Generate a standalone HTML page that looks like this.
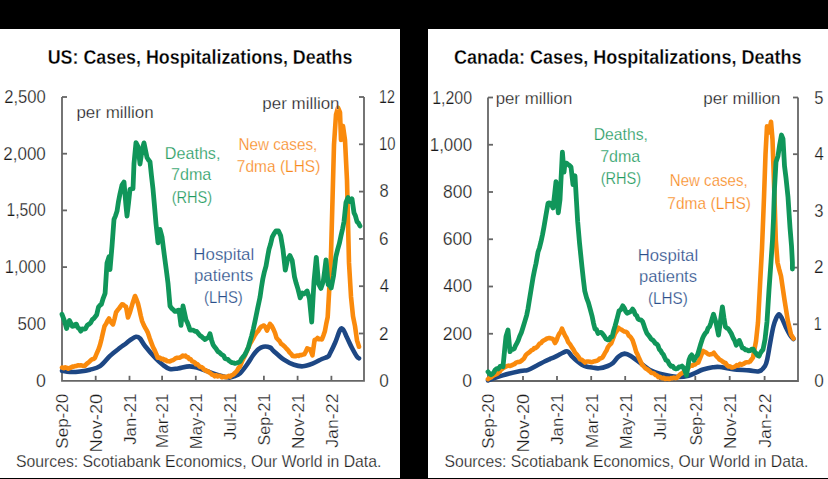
<!DOCTYPE html>
<html><head><meta charset="utf-8"><style>
html,body{margin:0;padding:0;background:#000;width:828px;height:479px;overflow:hidden}
</style></head><body>
<svg width="828" height="479" viewBox="0 0 828 479" style="display:block;font-family:'Liberation Sans',sans-serif">
<rect x="0" y="0" width="828" height="479" fill="#000"/>
<rect x="0" y="29" width="400" height="449" fill="#fff"/>
<rect x="428" y="29" width="400" height="449" fill="#fff"/>
<path d="M62,97 L62,380.8 L364,380.8 L364,97" fill="none" stroke="#666666" stroke-width="1.8"/>
<path d="M62,97 h5" stroke="#666666" stroke-width="1.8"/>
<path d="M62,153.7 h5" stroke="#666666" stroke-width="1.8"/>
<path d="M62,210.4 h5" stroke="#666666" stroke-width="1.8"/>
<path d="M62,267.1 h5" stroke="#666666" stroke-width="1.8"/>
<path d="M62,323.8 h5" stroke="#666666" stroke-width="1.8"/>
<path d="M364,97 h-5" stroke="#666666" stroke-width="1.8"/>
<path d="M364,144.3 h-5" stroke="#666666" stroke-width="1.8"/>
<path d="M364,191.6 h-5" stroke="#666666" stroke-width="1.8"/>
<path d="M364,238.9 h-5" stroke="#666666" stroke-width="1.8"/>
<path d="M364,286.2 h-5" stroke="#666666" stroke-width="1.8"/>
<path d="M364,333.5 h-5" stroke="#666666" stroke-width="1.8"/>
<path d="M95.7,380.8 v-5" stroke="#666666" stroke-width="1.8"/>
<path d="M129.5,380.8 v-5" stroke="#666666" stroke-width="1.8"/>
<path d="M162.1,380.8 v-5" stroke="#666666" stroke-width="1.8"/>
<path d="M195.8,380.8 v-5" stroke="#666666" stroke-width="1.8"/>
<path d="M229.6,380.8 v-5" stroke="#666666" stroke-width="1.8"/>
<path d="M263.9,380.8 v-5" stroke="#666666" stroke-width="1.8"/>
<path d="M297.6,380.8 v-5" stroke="#666666" stroke-width="1.8"/>
<path d="M331.4,380.8 v-5" stroke="#666666" stroke-width="1.8"/>
<path d="M488,97.5 L488,381 L798,381 L798,97.5" fill="none" stroke="#666666" stroke-width="1.8"/>
<path d="M488,97.5 h5" stroke="#666666" stroke-width="1.8"/>
<path d="M488,144.75 h5" stroke="#666666" stroke-width="1.8"/>
<path d="M488,192 h5" stroke="#666666" stroke-width="1.8"/>
<path d="M488,239.25 h5" stroke="#666666" stroke-width="1.8"/>
<path d="M488,286.5 h5" stroke="#666666" stroke-width="1.8"/>
<path d="M488,333.75 h5" stroke="#666666" stroke-width="1.8"/>
<path d="M798,97.5 h-5" stroke="#666666" stroke-width="1.8"/>
<path d="M798,154.2 h-5" stroke="#666666" stroke-width="1.8"/>
<path d="M798,210.9 h-5" stroke="#666666" stroke-width="1.8"/>
<path d="M798,267.6 h-5" stroke="#666666" stroke-width="1.8"/>
<path d="M798,324.3 h-5" stroke="#666666" stroke-width="1.8"/>
<path d="M523,381 v-5" stroke="#666666" stroke-width="1.8"/>
<path d="M557,381 v-5" stroke="#666666" stroke-width="1.8"/>
<path d="M591.2,381 v-5" stroke="#666666" stroke-width="1.8"/>
<path d="M625.2,381 v-5" stroke="#666666" stroke-width="1.8"/>
<path d="M660,381 v-5" stroke="#666666" stroke-width="1.8"/>
<path d="M695.3,381 v-5" stroke="#666666" stroke-width="1.8"/>
<path d="M729.7,381 v-5" stroke="#666666" stroke-width="1.8"/>
<path d="M764.6,381 v-5" stroke="#666666" stroke-width="1.8"/>
<path d="M62.0,370.8 C63.3,371.0 67.0,371.9 70.0,372.0 C73.0,372.1 76.7,371.9 80.0,371.5 C83.3,371.1 86.7,370.6 90.0,369.7 C93.3,368.8 96.7,368.5 100.0,366.2 C103.3,363.9 106.7,359.0 110.0,355.9 C113.3,352.8 117.3,349.9 120.0,347.8 C122.7,345.7 124.2,344.9 126.0,343.5 C127.8,342.1 129.3,340.6 131.0,339.5 C132.7,338.4 134.5,337.0 136.0,336.8 C137.5,336.6 138.5,337.0 140.0,338.5 C141.5,340.0 142.4,342.7 145.0,346.0 C147.6,349.3 152.8,355.3 155.8,358.5 C158.8,361.7 160.7,363.2 163.0,365.0 C165.3,366.8 167.2,368.4 169.7,369.0 C172.2,369.6 174.7,368.9 178.0,368.5 C181.3,368.1 185.8,366.4 189.5,366.4 C193.2,366.4 196.1,367.3 200.0,368.5 C203.9,369.7 208.5,372.0 213.0,373.5 C217.5,375.0 223.3,376.9 227.0,377.3 C230.7,377.7 232.8,376.7 235.0,376.0 C237.2,375.3 238.1,375.1 240.0,373.3 C241.9,371.5 244.5,368.1 246.7,365.0 C248.9,361.9 251.4,357.6 253.3,355.0 C255.2,352.4 256.6,350.6 258.3,349.2 C260.0,347.8 261.4,347.0 263.3,346.7 C265.2,346.4 268.3,346.8 270.0,347.5 C271.7,348.2 271.3,349.0 273.6,351.0 C275.9,353.0 280.5,357.4 283.9,359.7 C287.3,362.0 290.8,363.7 294.0,364.8 C297.2,365.9 299.7,366.5 302.9,366.3 C306.1,366.1 309.9,364.6 313.1,363.4 C316.3,362.2 319.5,360.1 321.9,359.0 C324.3,357.9 326.3,357.7 327.7,356.8 C329.1,355.9 328.8,355.8 330.0,353.5 C331.2,351.2 333.3,346.9 335.0,343.0 C336.7,339.1 338.7,332.3 340.0,330.0 C341.3,327.7 341.8,328.1 343.0,329.3 C344.2,330.6 345.5,334.4 347.0,337.5 C348.5,340.6 350.3,344.8 352.0,348.0 C353.7,351.2 355.8,355.0 357.0,356.7 C358.2,358.4 358.7,358.0 359.0,358.3" fill="none" stroke="#1d4784" stroke-width="4.6" stroke-linejoin="round" stroke-linecap="round"/>
<polyline points="62.0,367.5 63.7,368.1 65.3,367.3 67.0,367.9 68.3,368.6 69.7,368.0 71.0,367.5 72.3,366.6 73.7,366.6 75.0,366.1 76.4,366.0 77.9,365.2 79.3,365.5 80.7,365.3 82.1,365.6 83.6,365.8 85.0,365.6 86.4,364.1 87.9,362.9 89.3,361.7 90.7,360.4 92.1,359.3 93.6,359.0 95.0,357.7 96.7,353.5 98.3,349.9 100.0,345.0 101.5,339.1 103.0,332.6 104.5,326.3 106.0,323.9 107.5,320.8 109.0,318.5 110.3,321.3 111.7,322.9 113.0,324.4 114.5,319.0 116.0,312.4 117.5,310.3 119.0,308.6 120.5,306.4 122.0,304.4 123.3,304.5 124.7,306.0 126.0,306.6 128.0,317.5 129.7,313.0 131.3,307.6 133.0,301.9 135.0,296.0 136.5,299.5 138.0,303.6 139.3,309.0 140.7,315.5 142.0,320.8 143.5,324.5 145.0,327.6 146.5,329.9 148.0,333.1 149.7,338.3 151.3,342.6 153.0,347.0 154.6,350.1 156.2,353.8 157.8,357.8 159.5,357.5 161.3,359.1 163.0,358.7 164.3,360.1 165.7,359.7 167.0,361.1 168.4,361.2 169.7,361.4 171.0,360.8 172.3,360.4 173.7,359.7 175.0,358.7 176.7,357.9 178.3,357.7 180.0,357.6 181.4,356.8 182.8,355.6 184.1,356.2 185.5,355.7 186.8,357.1 188.1,357.2 189.4,359.1 190.7,359.3 192.0,361.2 193.3,361.6 194.7,362.5 196.0,364.3 197.3,364.1 198.7,365.6 200.0,367.0 201.3,367.0 202.7,367.9 204.0,369.7 205.3,370.0 206.7,371.3 208.0,371.2 209.3,372.5 210.6,373.2 212.0,374.8 213.3,374.8 214.8,376.3 216.2,375.2 217.7,376.4 219.2,375.7 220.6,376.2 222.1,377.3 223.5,376.6 225.0,376.9 226.3,377.3 227.7,376.5 229.0,375.8 230.3,376.8 231.7,375.3 233.0,374.9 234.4,373.5 235.8,372.1 237.2,370.6 238.6,367.9 240.0,366.5 241.7,362.1 243.3,358.8 245.0,355.4 246.7,351.4 248.3,347.8 250.0,343.7 251.7,341.0 253.3,338.1 255.0,335.0 256.7,332.4 258.3,330.8 260.0,328.0 261.3,326.6 262.7,326.0 264.0,325.5 265.5,327.2 267.0,330.6 268.5,327.1 270.0,323.9 271.8,326.0 273.6,329.6 275.1,333.1 276.5,337.9 278.0,339.6 279.5,341.0 281.0,343.7 282.4,344.6 283.9,345.9 285.4,347.4 286.8,349.0 288.2,350.4 289.7,352.6 291.2,353.9 292.6,356.0 294.1,356.1 295.6,356.3 297.0,355.5 298.5,355.9 299.9,355.1 301.4,355.1 302.9,354.6 304.3,354.3 305.8,351.6 307.2,348.4 308.7,349.0 310.2,349.5 312.4,355.3 314.6,340.0 316.1,339.5 317.5,338.0 319.0,339.3 320.4,339.1 321.9,339.4 323.4,335.6 324.8,331.6 326.2,324.1 327.7,317.0 329.5,285.0 331.0,254.7 332.5,200.2 334.0,144.6 336.0,114.6 338.0,107.6 340.0,112.3 341.0,139.9 343.0,126.0 345.0,140.1 347.0,180.4 349.0,262.9 351.0,296.7 353.0,316.3 355.0,326.1 357.0,340.4 359.0,346.7" fill="none" stroke="#fa8a0c" stroke-width="4.6" stroke-linejoin="round" stroke-linecap="round"/>
<polyline points="62.0,314.3 64.2,320.1 66.6,328.5 68.0,323.7 69.4,320.4 70.8,323.1 72.2,326.3 73.6,326.2 75.0,324.5 76.4,324.1 77.8,327.6 79.3,328.7 80.7,331.2 82.3,328.9 83.8,329.1 85.4,328.8 87.2,325.3 89.1,324.1 90.7,322.7 92.2,319.7 93.8,318.5 95.2,316.7 96.7,314.7 98.5,307.0 100.0,305.2 101.4,304.2 103.2,298.3 105.1,293.4 107.0,262.9 109.0,256.7 110.0,269.5 112.0,246.2 114.0,219.4 115.5,215.8 117.0,211.3 118.5,201.4 120.0,193.7 122.0,185.1 124.0,182.0 126.0,206.1 127.0,216.0 128.5,203.2 130.0,189.2 131.5,188.8 133.0,188.7 134.0,163.4 136.0,142.6 138.0,146.5 140.0,164.0 142.0,150.3 144.0,142.9 145.5,150.2 147.0,157.5 148.5,159.9 150.0,161.7 151.5,176.0 153.0,189.1 154.5,206.0 156.0,223.6 158.0,242.8 160.0,229.3 162.0,236.8 163.5,248.8 165.0,260.3 166.5,271.4 168.0,283.2 170.0,306.0 171.7,308.4 173.3,309.8 175.0,311.4 176.3,311.4 177.7,310.3 179.0,310.1 181.0,325.4 183.0,306.0 184.5,312.7 186.0,319.8 187.3,322.3 188.7,326.0 190.0,330.0 191.7,330.1 193.3,330.1 195.0,331.3 196.7,331.4 198.3,333.4 200.0,335.6 201.7,336.6 203.3,338.2 205.0,339.5 206.7,338.3 208.3,337.4 210.0,333.7 211.5,339.9 213.0,344.6 214.7,347.1 216.3,349.1 218.0,351.6 219.4,352.4 220.8,353.8 222.2,354.9 223.6,355.6 225.0,358.5 226.4,359.0 227.8,359.3 229.2,360.9 230.6,361.9 232.0,362.7 233.5,362.8 235.0,363.4 236.7,363.0 238.3,362.5 240.0,361.6 241.7,358.5 243.3,356.7 245.0,354.4 246.7,351.0 248.3,347.4 250.0,341.4 251.7,335.6 253.3,329.0 255.0,321.2 257.5,309.0 260.0,297.3 261.4,287.7 262.8,279.0 264.4,271.8 266.0,266.1 267.5,257.3 269.0,249.2 270.6,244.0 272.2,237.2 274.1,233.6 276.0,230.8 278.4,230.8 280.7,235.8 283.0,249.7 285.3,270.2 287.6,259.3 289.9,255.6 292.2,260.5 294.5,276.8 296.2,283.3 298.0,289.1 300.2,297.8 302.5,293.1 304.0,293.9 305.6,292.4 307.1,291.0 309.4,298.6 311.7,322.0 314.0,281.4 316.3,257.3 318.6,284.0 320.9,288.4 323.2,281.7 324.6,271.3 326.0,259.8 328.2,284.8 329.7,285.3 331.2,288.0 333.5,276.1 335.8,257.0 337.6,249.6 339.3,243.7 341.0,235.8 342.5,229.2 344.0,221.6 346.0,202.3 348.0,197.5 350.0,201.6 352.0,198.9 354.0,212.8 355.5,216.1 357.0,221.7 358.5,223.1 360.0,226.0" fill="none" stroke="#10965a" stroke-width="4.8" stroke-linejoin="round" stroke-linecap="round"/>
<path d="M488.0,380.5 C490.5,379.6 497.4,377.0 502.8,375.4 C508.2,373.8 516.4,371.9 520.5,371.0 C524.6,370.1 524.9,371.0 527.6,370.1 C530.3,369.2 533.6,367.2 536.5,365.7 C539.4,364.2 542.8,362.3 545.0,361.2 C547.2,360.1 548.3,359.7 550.0,359.0 C551.7,358.3 553.3,357.7 555.0,356.9 C556.7,356.1 558.3,355.2 560.0,354.3 C561.7,353.4 563.7,352.1 565.0,351.7 C566.3,351.3 566.8,350.9 568.0,351.7 C569.2,352.5 570.5,354.8 572.0,356.4 C573.5,357.9 575.3,359.6 577.0,361.0 C578.7,362.4 580.3,363.7 582.0,364.7 C583.7,365.7 585.3,366.3 587.0,366.8 C588.7,367.3 590.0,367.2 592.0,367.5 C594.0,367.8 596.4,368.6 599.0,368.3 C601.6,368.1 605.5,366.9 607.8,366.0 C610.1,365.1 611.2,364.5 613.0,363.0 C614.8,361.5 616.5,358.4 618.4,356.8 C620.3,355.2 622.5,353.8 624.6,353.6 C626.7,353.5 628.6,354.6 630.8,355.9 C633.0,357.2 635.5,359.4 637.9,361.2 C640.3,363.0 643.0,365.1 645.0,366.6 C647.0,368.1 647.5,368.8 650.0,370.0 C652.5,371.2 656.5,372.9 659.7,373.8 C662.9,374.8 666.1,375.2 669.3,375.7 C672.5,376.2 675.8,377.0 679.0,377.0 C682.2,377.0 685.9,376.4 688.6,375.7 C691.3,375.0 693.0,373.9 695.4,372.9 C697.8,371.9 700.1,370.4 703.0,369.5 C705.9,368.6 710.0,367.7 712.8,367.3 C715.6,366.9 716.2,366.7 719.6,367.0 C723.0,367.3 728.1,368.6 733.0,369.2 C737.9,369.8 744.7,370.0 749.0,370.4 C753.3,370.8 756.3,372.0 759.0,371.3 C761.7,370.6 763.6,368.2 765.0,366.0 C766.4,363.8 766.6,362.2 767.5,358.0 C768.4,353.8 769.5,346.3 770.5,341.0 C771.5,335.7 772.5,329.9 773.5,326.0 C774.5,322.1 775.6,319.5 776.5,317.5 C777.4,315.5 778.1,314.0 779.0,314.2 C779.9,314.4 780.8,316.3 782.0,318.5 C783.2,320.7 784.7,324.8 786.0,327.5 C787.3,330.2 788.8,333.1 790.0,335.0 C791.2,336.9 792.9,338.3 793.5,339.0" fill="none" stroke="#1d4784" stroke-width="4.6" stroke-linejoin="round" stroke-linecap="round"/>
<polyline points="488.0,379.1 489.5,378.0 491.1,377.4 492.6,376.1 494.2,375.0 495.7,374.5 497.1,373.9 498.5,372.5 500.0,371.2 501.4,369.2 502.8,368.4 504.3,367.4 505.7,366.7 507.2,366.0 508.7,365.6 510.1,366.0 511.6,365.3 513.1,364.6 514.6,364.0 516.0,362.6 517.5,362.1 519.0,362.0 520.5,361.5 522.2,360.1 524.0,358.5 525.8,355.1 527.6,353.4 529.0,352.6 530.3,351.5 531.6,350.1 533.0,349.7 534.3,348.0 535.6,348.1 537.0,346.9 538.3,345.4 539.6,343.7 541.0,343.2 542.3,341.4 543.6,340.5 545.3,339.7 547.0,338.5 548.5,338.1 550.0,338.1 551.5,338.6 553.0,338.9 555.0,343.0 556.5,340.5 558.0,336.2 559.3,333.6 560.7,331.8 562.0,328.7 563.5,332.3 565.0,335.5 566.7,338.3 568.3,342.3 570.0,344.2 571.7,347.1 573.3,349.4 575.0,352.6 576.7,354.3 578.3,356.6 580.0,359.3 581.7,359.7 583.3,361.1 585.0,362.6 586.7,361.5 588.3,361.5 590.0,361.7 591.4,362.3 592.8,361.9 594.2,361.2 595.6,361.1 597.0,360.7 598.4,360.0 599.7,358.4 601.0,358.2 602.4,357.4 603.8,355.2 605.1,352.7 606.4,350.8 607.8,347.3 609.5,345.0 611.3,343.3 613.1,338.5 614.9,333.6 616.6,331.2 618.4,327.7 619.9,329.1 621.3,329.5 622.8,330.6 624.3,331.5 625.8,331.7 627.3,332.6 628.6,335.4 630.0,336.6 631.3,338.1 632.6,340.2 634.4,345.7 636.2,351.9 637.7,354.8 639.1,358.3 640.6,361.5 642.1,364.8 643.5,366.1 645.0,367.9 646.7,368.9 648.3,370.1 650.0,371.5 651.4,373.0 652.8,373.0 654.2,373.6 655.5,375.0 656.9,375.4 658.3,377.2 659.7,376.7 661.1,377.5 662.4,378.1 663.8,377.9 665.2,379.0 666.6,378.5 667.9,378.5 669.3,379.0 670.8,378.1 672.4,378.2 673.9,377.6 675.5,378.1 677.0,377.7 678.5,376.1 680.0,374.4 681.4,373.6 682.9,372.5 684.4,371.1 686.0,369.8 687.5,369.3 689.1,366.9 690.6,365.4 692.1,365.8 693.7,364.6 695.2,364.4 696.8,362.8 698.3,362.8 699.9,358.5 701.4,354.9 703.0,350.9 704.7,351.9 706.3,352.6 708.0,354.1 709.5,354.6 710.9,354.3 712.3,354.0 713.8,352.8 715.2,354.8 716.7,356.6 718.1,357.9 719.6,359.7 721.0,360.3 722.5,361.5 724.0,362.5 725.4,362.9 726.9,365.1 728.5,366.4 730.0,366.4 731.7,367.5 733.3,367.2 735.0,366.6 736.7,365.1 738.3,365.6 740.0,363.9 741.7,364.7 743.3,364.0 745.0,362.8 746.7,362.3 748.3,362.3 750.0,361.5 751.5,359.5 753.0,357.6 754.5,349.1 756.0,341.3 758.0,322.6 760.0,285.3 762.0,248.5 764.0,197.5 765.5,154.4 767.0,126.4 769.0,132.5 771.0,121.8 772.5,139.5 773.5,168.1 774.5,197.9 775.8,239.8 777.5,262.5 779.2,269.4 781.0,276.0 782.8,288.3 784.5,299.9 786.2,310.5 788.0,321.9 789.5,327.9 791.0,334.5 793.5,338.5" fill="none" stroke="#fa8a0c" stroke-width="4.6" stroke-linejoin="round" stroke-linecap="round"/>
<polyline points="488.0,371.8 489.5,373.7 491.0,374.7 492.3,373.9 493.7,372.6 495.0,370.1 496.7,368.7 498.3,369.0 500.0,366.5 501.5,365.8 503.0,366.7 505.0,345.9 506.0,336.4 508.0,330.0 510.0,351.7 511.4,349.6 512.9,349.4 514.3,348.7 515.6,345.4 517.0,343.1 518.3,340.3 519.6,336.4 521.4,332.5 523.2,326.8 525.0,320.9 526.7,315.1 528.0,308.7 529.4,299.9 531.2,288.9 533.0,277.8 534.5,270.3 536.0,263.5 538.0,252.1 539.5,247.7 541.0,241.7 542.5,234.8 544.0,226.8 546.0,214.9 548.0,203.3 549.5,202.8 551.0,203.6 553.0,207.9 554.5,195.3 556.0,181.6 557.0,197.0 558.3,212.8 560.0,199.7 562.4,152.2 564.0,172.2 565.0,163.0 566.5,163.2 568.0,164.4 569.5,165.5 571.0,167.0 573.0,184.7 575.0,175.8 576.0,193.2 577.7,221.9 579.5,242.8 582.0,267.1 583.4,279.8 584.8,291.2 586.6,297.8 588.4,302.6 590.2,309.2 592.0,315.8 593.5,323.1 595.0,329.0 596.5,329.6 598.0,333.4 599.5,332.7 601.0,332.3 602.6,333.8 604.2,336.0 606.0,338.9 607.8,339.9 609.3,339.6 610.7,337.0 612.2,336.8 613.7,330.4 615.1,325.9 616.6,320.5 619.0,311.0 620.9,309.6 622.8,305.8 624.3,308.0 625.8,311.7 627.3,313.3 628.6,312.5 630.0,311.8 631.3,311.1 632.6,309.1 633.9,310.9 635.2,314.5 636.6,315.4 637.9,318.7 639.4,319.8 640.9,319.9 642.4,321.2 643.9,325.2 645.3,329.4 646.8,333.2 648.4,335.1 650.0,337.2 651.3,339.4 652.7,340.0 654.0,341.4 655.3,343.4 656.7,344.0 658.0,345.6 659.3,349.3 660.7,350.7 662.0,353.1 663.3,354.4 664.7,357.5 666.0,360.2 667.7,361.0 669.3,364.2 671.0,366.3 672.7,366.1 674.3,368.3 676.0,368.9 677.5,368.5 679.0,367.0 680.5,366.8 682.0,366.0 683.5,367.7 685.0,371.0 686.5,375.4 689.0,359.9 690.4,356.5 691.7,354.9 694.0,360.2 695.8,357.1 697.6,354.7 699.3,349.0 700.9,343.4 702.6,338.2 704.0,335.3 705.4,333.2 706.7,331.8 708.1,328.0 709.5,326.8 710.8,323.2 712.2,318.4 713.5,314.2 716.0,322.6 718.5,335.1 720.5,320.6 722.4,306.8 723.9,317.7 725.4,326.9 726.7,328.0 728.1,328.7 729.4,330.4 731.3,333.5 733.3,338.3 734.8,340.9 736.3,345.3 737.8,342.9 739.3,340.4 740.8,344.0 742.3,348.0 743.9,348.4 745.6,349.9 747.2,349.9 748.7,350.9 750.2,350.7 751.7,349.1 753.2,349.1 754.7,351.9 756.1,353.3 757.5,355.4 759.0,356.2 760.3,353.3 761.7,351.1 763.0,349.6 765.0,339.5 767.0,321.7 769.0,289.8 771.0,261.8 772.5,239.8 773.5,218.8 774.5,188.3 776.0,162.0 778.0,155.9 779.5,145.8 781.5,135.0 783.0,138.9 784.5,165.9 786.0,177.9 788.0,197.1 790.0,227.5 791.5,245.7 792.4,262.3 792.4,269.0" fill="none" stroke="#10965a" stroke-width="4.8" stroke-linejoin="round" stroke-linecap="round"/>
<g opacity="0.999">
<text x="47.66" y="63.70" font-size="20.9" font-weight="bold" fill="#000" textLength="304.76" lengthAdjust="spacingAndGlyphs" stroke="#fff" stroke-width="0.3">US: Cases, Hospitalizations, Deaths</text>
<text x="4.22" y="102.85" font-size="17.5" font-weight="normal" fill="#1a1a1a" textLength="41.59" lengthAdjust="spacingAndGlyphs" stroke="#fff" stroke-width="0.25">2,500</text>
<text x="3.30" y="159.75" font-size="17.5" font-weight="normal" fill="#1a1a1a" textLength="42.52" lengthAdjust="spacingAndGlyphs" stroke="#fff" stroke-width="0.25">2,000</text>
<text x="6.52" y="216.25" font-size="17.5" font-weight="normal" fill="#1a1a1a" textLength="39.27" lengthAdjust="spacingAndGlyphs" stroke="#fff" stroke-width="0.25">1,500</text>
<text x="4.78" y="273.35" font-size="17.5" font-weight="normal" fill="#1a1a1a" textLength="41.03" lengthAdjust="spacingAndGlyphs" stroke="#fff" stroke-width="0.25">1,000</text>
<text x="17.57" y="330.15" font-size="17.5" font-weight="normal" fill="#1a1a1a" textLength="28.25" lengthAdjust="spacingAndGlyphs" stroke="#fff" stroke-width="0.25">500</text>
<text x="35.94" y="386.95" font-size="17.5" font-weight="normal" fill="#1a1a1a" textLength="9.90" lengthAdjust="spacingAndGlyphs" stroke="#fff" stroke-width="0.25">0</text>
<text x="379.01" y="103.15" font-size="17.5" font-weight="normal" fill="#1a1a1a" textLength="15.87" lengthAdjust="spacingAndGlyphs" stroke="#fff" stroke-width="0.25">12</text>
<text x="378.97" y="150.45" font-size="17.5" font-weight="normal" fill="#1a1a1a" textLength="16.50" lengthAdjust="spacingAndGlyphs" stroke="#fff" stroke-width="0.25">10</text>
<text x="379.38" y="196.75" font-size="17.5" font-weight="normal" fill="#1a1a1a" textLength="9.19" lengthAdjust="spacingAndGlyphs" stroke="#fff" stroke-width="0.25">8</text>
<text x="379.10" y="244.55" font-size="17.5" font-weight="normal" fill="#1a1a1a" textLength="9.49" lengthAdjust="spacingAndGlyphs" stroke="#fff" stroke-width="0.25">6</text>
<text x="379.64" y="292.15" font-size="17.5" font-weight="normal" fill="#1a1a1a" textLength="9.28" lengthAdjust="spacingAndGlyphs" stroke="#fff" stroke-width="0.25">4</text>
<text x="379.10" y="339.55" font-size="17.5" font-weight="normal" fill="#1a1a1a" textLength="9.49" lengthAdjust="spacingAndGlyphs" stroke="#fff" stroke-width="0.25">2</text>
<text x="379.36" y="386.95" font-size="17.5" font-weight="normal" fill="#1a1a1a" textLength="9.57" lengthAdjust="spacingAndGlyphs" stroke="#fff" stroke-width="0.25">0</text>
<text x="76.44" y="117.80" font-size="16" font-weight="normal" fill="#1a1a1a" textLength="77.21" lengthAdjust="spacingAndGlyphs" stroke="#fff" stroke-width="0.25">per million</text>
<text x="262.34" y="108.60" font-size="16" font-weight="normal" fill="#1a1a1a" textLength="77.21" lengthAdjust="spacingAndGlyphs" stroke="#fff" stroke-width="0.25">per million</text>
<text x="164.84" y="158.70" font-size="17" font-weight="normal" fill="#1f9a60" textLength="55.56" lengthAdjust="spacingAndGlyphs" stroke="#fff" stroke-width="0.25">Deaths,</text>
<text x="170.94" y="180.20" font-size="17" font-weight="normal" fill="#1f9a60" textLength="40.35" lengthAdjust="spacingAndGlyphs" stroke="#fff" stroke-width="0.25">7dma</text>
<text x="171.72" y="202.50" font-size="17" font-weight="normal" fill="#1f9a60" textLength="40.44" lengthAdjust="spacingAndGlyphs" stroke="#fff" stroke-width="0.25">(RHS)</text>
<text x="238.51" y="149.80" font-size="17" font-weight="normal" fill="#f8891c" textLength="78.83" lengthAdjust="spacingAndGlyphs" stroke="#fff" stroke-width="0.25">New cases,</text>
<text x="236.87" y="172.20" font-size="17" font-weight="normal" fill="#f8891c" textLength="83.43" lengthAdjust="spacingAndGlyphs" stroke="#fff" stroke-width="0.25">7dma (LHS)</text>
<text x="193.38" y="259.70" font-size="16.6" font-weight="normal" fill="#2a4e8a" textLength="60.83" lengthAdjust="spacingAndGlyphs" stroke="#fff" stroke-width="0.25">Hospital</text>
<text x="193.94" y="281.20" font-size="16.6" font-weight="normal" fill="#2a4e8a" textLength="59.18" lengthAdjust="spacingAndGlyphs" stroke="#fff" stroke-width="0.25">patients</text>
<text x="204.00" y="303.00" font-size="16.6" font-weight="normal" fill="#2a4e8a" textLength="38.76" lengthAdjust="spacingAndGlyphs" stroke="#fff" stroke-width="0.25">(LHS)</text>
<text x="15.91" y="466.60" font-size="17" font-weight="normal" fill="#1a1a1a" textLength="365.52" lengthAdjust="spacingAndGlyphs" stroke="#fff" stroke-width="0.25">Sources: Scotiabank Economics, Our World in Data.</text>
<text transform="translate(68.30,448.20) rotate(-90)" x="-0.53" y="0" font-size="16" font-weight="normal" fill="#1a1a1a" textLength="54.96" lengthAdjust="spacingAndGlyphs" stroke="#fff" stroke-width="0.25">Sep-20</text>
<text transform="translate(102.00,451.20) rotate(-90)" x="-1.43" y="0" font-size="16" font-weight="normal" fill="#1a1a1a" textLength="58.88" lengthAdjust="spacingAndGlyphs" stroke="#fff" stroke-width="0.25">Nov-20</text>
<text transform="translate(135.80,444.60) rotate(-90)" x="-0.26" y="0" font-size="16" font-weight="normal" fill="#1a1a1a" textLength="51.34" lengthAdjust="spacingAndGlyphs" stroke="#fff" stroke-width="0.25">Jan-21</text>
<text transform="translate(168.40,446.80) rotate(-90)" x="-1.35" y="0" font-size="16" font-weight="normal" fill="#1a1a1a" textLength="54.65" lengthAdjust="spacingAndGlyphs" stroke="#fff" stroke-width="0.25">Mar-21</text>
<text transform="translate(202.10,447.90) rotate(-90)" x="-1.30" y="0" font-size="16" font-weight="normal" fill="#1a1a1a" textLength="55.68" lengthAdjust="spacingAndGlyphs" stroke="#fff" stroke-width="0.25">May-21</text>
<text transform="translate(235.90,439.80) rotate(-90)" x="-0.27" y="0" font-size="16" font-weight="normal" fill="#1a1a1a" textLength="46.56" lengthAdjust="spacingAndGlyphs" stroke="#fff" stroke-width="0.25">Jul-21</text>
<text transform="translate(270.20,444.90) rotate(-90)" x="-0.50" y="0" font-size="16" font-weight="normal" fill="#1a1a1a" textLength="51.85" lengthAdjust="spacingAndGlyphs" stroke="#fff" stroke-width="0.25">Sep-21</text>
<text transform="translate(303.90,447.60) rotate(-90)" x="-1.34" y="0" font-size="16" font-weight="normal" fill="#1a1a1a" textLength="55.44" lengthAdjust="spacingAndGlyphs" stroke="#fff" stroke-width="0.25">Nov-21</text>
<text transform="translate(337.70,447.60) rotate(-90)" x="-0.28" y="0" font-size="16" font-weight="normal" fill="#1a1a1a" textLength="54.40" lengthAdjust="spacingAndGlyphs" stroke="#fff" stroke-width="0.25">Jan-22</text>
<text x="453.94" y="64.20" font-size="20.9" font-weight="bold" fill="#000" textLength="347.59" lengthAdjust="spacingAndGlyphs" stroke="#fff" stroke-width="0.3">Canada: Cases, Hospitalizations, Deaths</text>
<text x="432.20" y="103.85" font-size="17.5" font-weight="normal" fill="#1a1a1a" textLength="39.89" lengthAdjust="spacingAndGlyphs" stroke="#fff" stroke-width="0.25">1,200</text>
<text x="429.74" y="150.75" font-size="17.5" font-weight="normal" fill="#1a1a1a" textLength="42.38" lengthAdjust="spacingAndGlyphs" stroke="#fff" stroke-width="0.25">1,000</text>
<text x="442.95" y="197.95" font-size="17.5" font-weight="normal" fill="#1a1a1a" textLength="29.18" lengthAdjust="spacingAndGlyphs" stroke="#fff" stroke-width="0.25">800</text>
<text x="442.67" y="245.15" font-size="17.5" font-weight="normal" fill="#1a1a1a" textLength="29.47" lengthAdjust="spacingAndGlyphs" stroke="#fff" stroke-width="0.25">600</text>
<text x="443.23" y="292.45" font-size="17.5" font-weight="normal" fill="#1a1a1a" textLength="28.90" lengthAdjust="spacingAndGlyphs" stroke="#fff" stroke-width="0.25">400</text>
<text x="442.67" y="339.75" font-size="17.5" font-weight="normal" fill="#1a1a1a" textLength="29.47" lengthAdjust="spacingAndGlyphs" stroke="#fff" stroke-width="0.25">200</text>
<text x="462.35" y="387.15" font-size="17.5" font-weight="normal" fill="#1a1a1a" textLength="9.79" lengthAdjust="spacingAndGlyphs" stroke="#fff" stroke-width="0.25">0</text>
<text x="814.18" y="103.65" font-size="17.5" font-weight="normal" fill="#1a1a1a" textLength="9.19" lengthAdjust="spacingAndGlyphs" stroke="#fff" stroke-width="0.25">5</text>
<text x="814.44" y="160.45" font-size="17.5" font-weight="normal" fill="#1a1a1a" textLength="9.28" lengthAdjust="spacingAndGlyphs" stroke="#fff" stroke-width="0.25">4</text>
<text x="814.18" y="216.65" font-size="17.5" font-weight="normal" fill="#1a1a1a" textLength="9.19" lengthAdjust="spacingAndGlyphs" stroke="#fff" stroke-width="0.25">3</text>
<text x="813.90" y="273.45" font-size="17.5" font-weight="normal" fill="#1a1a1a" textLength="9.49" lengthAdjust="spacingAndGlyphs" stroke="#fff" stroke-width="0.25">2</text>
<text x="813.80" y="330.25" font-size="17.5" font-weight="normal" fill="#1a1a1a" textLength="7.98" lengthAdjust="spacingAndGlyphs" stroke="#fff" stroke-width="0.25">1</text>
<text x="814.16" y="387.15" font-size="17.5" font-weight="normal" fill="#1a1a1a" textLength="9.57" lengthAdjust="spacingAndGlyphs" stroke="#fff" stroke-width="0.25">0</text>
<text x="495.65" y="104.00" font-size="16" font-weight="normal" fill="#1a1a1a" textLength="76.70" lengthAdjust="spacingAndGlyphs" stroke="#fff" stroke-width="0.25">per million</text>
<text x="703.34" y="103.80" font-size="16" font-weight="normal" fill="#1a1a1a" textLength="77.21" lengthAdjust="spacingAndGlyphs" stroke="#fff" stroke-width="0.25">per million</text>
<text x="593.77" y="140.40" font-size="17" font-weight="normal" fill="#1f9a60" textLength="54.20" lengthAdjust="spacingAndGlyphs" stroke="#fff" stroke-width="0.25">Deaths,</text>
<text x="600.15" y="162.10" font-size="17" font-weight="normal" fill="#1f9a60" textLength="40.15" lengthAdjust="spacingAndGlyphs" stroke="#fff" stroke-width="0.25">7dma</text>
<text x="600.72" y="184.30" font-size="17" font-weight="normal" fill="#1f9a60" textLength="40.44" lengthAdjust="spacingAndGlyphs" stroke="#fff" stroke-width="0.25">(RHS)</text>
<text x="669.82" y="186.30" font-size="17" font-weight="normal" fill="#f8891c" textLength="77.80" lengthAdjust="spacingAndGlyphs" stroke="#fff" stroke-width="0.25">New cases,</text>
<text x="667.37" y="209.00" font-size="17" font-weight="normal" fill="#f8891c" textLength="83.63" lengthAdjust="spacingAndGlyphs" stroke="#fff" stroke-width="0.25">7dma (LHS)</text>
<text x="637.69" y="260.50" font-size="16.6" font-weight="normal" fill="#2a4e8a" textLength="60.41" lengthAdjust="spacingAndGlyphs" stroke="#fff" stroke-width="0.25">Hospital</text>
<text x="638.96" y="282.20" font-size="16.6" font-weight="normal" fill="#2a4e8a" textLength="58.05" lengthAdjust="spacingAndGlyphs" stroke="#fff" stroke-width="0.25">patients</text>
<text x="647.99" y="304.00" font-size="16.6" font-weight="normal" fill="#2a4e8a" textLength="39.80" lengthAdjust="spacingAndGlyphs" stroke="#fff" stroke-width="0.25">(LHS)</text>
<text x="444.41" y="466.60" font-size="17" font-weight="normal" fill="#1a1a1a" textLength="364.01" lengthAdjust="spacingAndGlyphs" stroke="#fff" stroke-width="0.25">Sources: Scotiabank Economics, Our World in Data.</text>
<text transform="translate(494.30,448.20) rotate(-90)" x="-0.53" y="0" font-size="16" font-weight="normal" fill="#1a1a1a" textLength="54.96" lengthAdjust="spacingAndGlyphs" stroke="#fff" stroke-width="0.25">Sep-20</text>
<text transform="translate(529.30,451.20) rotate(-90)" x="-1.43" y="0" font-size="16" font-weight="normal" fill="#1a1a1a" textLength="58.88" lengthAdjust="spacingAndGlyphs" stroke="#fff" stroke-width="0.25">Nov-20</text>
<text transform="translate(563.30,444.60) rotate(-90)" x="-0.26" y="0" font-size="16" font-weight="normal" fill="#1a1a1a" textLength="51.34" lengthAdjust="spacingAndGlyphs" stroke="#fff" stroke-width="0.25">Jan-21</text>
<text transform="translate(597.50,446.80) rotate(-90)" x="-1.35" y="0" font-size="16" font-weight="normal" fill="#1a1a1a" textLength="54.65" lengthAdjust="spacingAndGlyphs" stroke="#fff" stroke-width="0.25">Mar-21</text>
<text transform="translate(631.50,447.90) rotate(-90)" x="-1.30" y="0" font-size="16" font-weight="normal" fill="#1a1a1a" textLength="55.68" lengthAdjust="spacingAndGlyphs" stroke="#fff" stroke-width="0.25">May-21</text>
<text transform="translate(666.30,439.80) rotate(-90)" x="-0.27" y="0" font-size="16" font-weight="normal" fill="#1a1a1a" textLength="46.56" lengthAdjust="spacingAndGlyphs" stroke="#fff" stroke-width="0.25">Jul-21</text>
<text transform="translate(701.60,444.90) rotate(-90)" x="-0.50" y="0" font-size="16" font-weight="normal" fill="#1a1a1a" textLength="51.85" lengthAdjust="spacingAndGlyphs" stroke="#fff" stroke-width="0.25">Sep-21</text>
<text transform="translate(736.00,447.60) rotate(-90)" x="-1.34" y="0" font-size="16" font-weight="normal" fill="#1a1a1a" textLength="55.44" lengthAdjust="spacingAndGlyphs" stroke="#fff" stroke-width="0.25">Nov-21</text>
<text transform="translate(770.90,447.60) rotate(-90)" x="-0.28" y="0" font-size="16" font-weight="normal" fill="#1a1a1a" textLength="54.40" lengthAdjust="spacingAndGlyphs" stroke="#fff" stroke-width="0.25">Jan-22</text>
</g>
</svg>
</body></html>
